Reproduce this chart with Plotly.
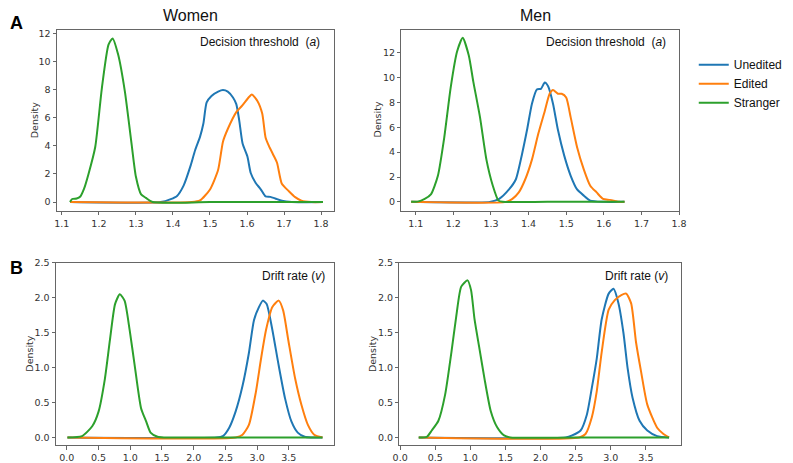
import plotly.graph_objects as go

W, H = 793, 463

# ---------------- DATA ----------------
series_names = ["Unedited", "Edited", "Stranger"]
colors = ["#1f77b4", "#ff7f0e", "#2ca02c"]

# Panel A - Women (decision threshold)
wa_unedited_x = [1.122, 1.367, 1.394, 1.411, 1.429, 1.447, 1.46, 1.473, 1.482, 1.491, 1.504, 1.522, 1.535, 1.548, 1.562, 1.571, 1.579, 1.588, 1.601, 1.61, 1.623, 1.637, 1.65, 1.663, 1.676, 1.694, 1.721, 1.805]
wa_unedited_y = [0, 0, 0.21, 0.44, 1.19, 2.54, 3.71, 4.64, 5.57, 7.09, 7.55, 7.86, 7.97, 7.86, 7.44, 6.97, 5.8, 4.17, 3.24, 2.07, 1.38, 0.91, 0.40, 0.37, 0.26, 0.09, 0, 0]
wa_edited_x = [1.122, 1.451, 1.473, 1.5, 1.522, 1.535, 1.548, 1.571, 1.588, 1.606, 1.613, 1.628, 1.641, 1.65, 1.659, 1.672, 1.681, 1.694, 1.712, 1.73, 1.747, 1.774, 1.805]
wa_edited_y = [0, 0, 0.12, 0.9, 2.3, 4.3, 5.2, 6.4, 6.9, 7.5, 7.65, 7.2, 6.3, 4.6, 4.0, 3.3, 2.8, 1.3, 0.8, 0.35, 0.1, 0, 0]
wa_stranger_x = [1.122, 1.128, 1.14, 1.15, 1.16, 1.172, 1.19, 1.208, 1.226, 1.237, 1.252, 1.27, 1.288, 1.30, 1.314, 1.327, 1.345, 1.5, 1.805]
wa_stranger_y = [0, 0.22, 0.25, 0.4, 0.95, 2.0, 3.9, 8.1, 11.2, 11.65, 10.5, 7.9, 4.2, 1.8, 0.55, 0.3, 0.0, 0, 0]

# Panel A - Men (decision threshold)
ma_unedited_x = [1.088, 1.297, 1.322, 1.348, 1.366, 1.383, 1.396, 1.409, 1.422, 1.433, 1.443, 1.452, 1.465, 1.478, 1.495, 1.512, 1.529, 1.547, 1.564, 1.598, 1.655]
ma_unedited_y = [0, 0, 0.24, 1.0, 1.8, 3.9, 5.8, 7.9, 9.05, 9.1, 9.6, 9.3, 7.9, 5.8, 3.7, 2.1, 1.0, 0.5, 0.1, 0, 0]
ma_edited_x = [1.088, 1.34, 1.357, 1.374, 1.391, 1.409, 1.426, 1.443, 1.456, 1.465, 1.478, 1.488, 1.5, 1.512, 1.529, 1.547, 1.564, 1.581, 1.598, 1.616, 1.633, 1.641, 1.655]
ma_edited_y = [0, 0, 0.24, 0.76, 1.8, 3.4, 5.5, 7.3, 8.7, 9.0, 8.7, 8.7, 8.4, 6.8, 4.4, 2.6, 1.3, 0.76, 0.24, 0.16, 0.05, 0, 0]
ma_stranger_x = [1.088, 1.105, 1.124, 1.141, 1.159, 1.176, 1.193, 1.21, 1.225, 1.241, 1.253, 1.271, 1.288, 1.305, 1.32, 1.331, 1.45, 1.655]
ma_stranger_y = [0, 0.02, 0.24, 0.63, 2.1, 5.2, 9.2, 12.1, 13.2, 11.8, 9.7, 6.8, 3.4, 1.3, 0.1, 0, 0, 0]

# Panel B - Women (drift rate)
wb_unedited_x = [0.01, 2.36, 2.46, 2.56, 2.66, 2.77, 2.87, 2.95, 3.03, 3.09, 3.15, 3.23, 3.34, 3.44, 3.54, 3.64, 3.75, 3.85, 4.03]
wb_unedited_y = [0, 0, 0.02, 0.14, 0.37, 0.74, 1.21, 1.68, 1.87, 1.96, 1.91, 1.59, 1.03, 0.56, 0.23, 0.07, 0.01, 0, 0]
wb_edited_x = [0.01, 2.66, 2.77, 2.87, 2.98, 3.06, 3.14, 3.24, 3.34, 3.41, 3.49, 3.6, 3.7, 3.8, 3.9, 4.03]
wb_edited_y = [0, 0, 0.04, 0.18, 0.65, 1.12, 1.54, 1.87, 1.96, 1.82, 1.4, 0.84, 0.46, 0.18, 0.04, 0]
wb_stranger_x = [0.01, 0.24, 0.4, 0.5, 0.6, 0.68, 0.76, 0.835, 0.91, 0.99, 1.07, 1.17, 1.25, 1.32, 1.43, 1.53, 2.5, 4.03]
wb_stranger_y = [0, 0.02, 0.16, 0.37, 0.84, 1.4, 1.91, 2.05, 1.96, 1.54, 1.03, 0.42, 0.23, 0.07, 0.01, 0, 0, 0]

# Panel B - Men (drift rate)
mb_unedited_x = [0.265, 2.36, 2.45, 2.57, 2.66, 2.73, 2.8, 2.87, 2.97, 3.04, 3.11, 3.18, 3.24, 3.31, 3.41, 3.52, 3.66, 3.83]
mb_unedited_y = [0, 0, 0.03, 0.1, 0.33, 0.71, 1.13, 1.69, 2.06, 2.13, 1.92, 1.5, 0.99, 0.57, 0.24, 0.1, 0.02, 0]
mb_edited_x = [0.265, 2.55, 2.64, 2.73, 2.8, 2.87, 2.97, 3.06, 3.15, 3.22, 3.29, 3.36, 3.43, 3.52, 3.66, 3.75, 3.83]
mb_edited_y = [0, 0, 0.05, 0.29, 0.66, 1.22, 1.83, 1.97, 2.04, 2.06, 1.92, 1.36, 0.95, 0.47, 0.14, 0.05, 0]
mb_stranger_x = [0.265, 0.38, 0.45, 0.545, 0.64, 0.73, 0.8, 0.87, 0.96, 1.01, 1.06, 1.13, 1.2, 1.29, 1.38, 1.48, 1.57, 2.5, 3.83]
mb_stranger_y = [0, 0.01, 0.1, 0.24, 0.61, 1.22, 1.74, 2.16, 2.25, 2.11, 1.69, 1.27, 0.85, 0.38, 0.15, 0.03, 0, 0, 0]

panels = [
    [(wa_unedited_x, wa_unedited_y), (wa_edited_x, wa_edited_y), (wa_stranger_x, wa_stranger_y)],
    [(ma_unedited_x, ma_unedited_y), (ma_edited_x, ma_edited_y), (ma_stranger_x, ma_stranger_y)],
    [(wb_unedited_x, wb_unedited_y), (wb_edited_x, wb_edited_y), (wb_stranger_x, wb_stranger_y)],
    [(mb_unedited_x, mb_unedited_y), (mb_edited_x, mb_edited_y), (mb_stranger_x, mb_stranger_y)],
]

xticks_a = [1.1, 1.2, 1.3, 1.4, 1.5, 1.6, 1.7, 1.8]
yticks_a = [0, 2, 4, 6, 8, 10, 12]
xticks_b = [0.0, 0.5, 1.0, 1.5, 2.0, 2.5, 3.0, 3.5]
yticks_b = [0.0, 0.5, 1.0, 1.5, 2.0, 2.5]

# ---------------- LAYOUT ----------------
# pixel boxes: (left, right, top, bottom)
boxes = [(51, 333, 24, 209), (402, 685, 24, 209), (50, 333, 262, 448), (400, 687, 262, 448)]
xranges = [[1.087, 1.834], [1.062, 1.80], [-0.17, 4.207], [-0.01, 4.0]]
yranges = [[-0.63, 12.28], [-0.73, 13.87], [-0.112, 2.5], [-0.112, 2.5]]
xtick_sets = [xticks_a, xticks_a, xticks_b, xticks_b]
ytick_sets = [yticks_a, yticks_a, yticks_b, yticks_b]

fig = go.Figure()
layout = dict(
    width=W, height=H, margin=dict(l=0, r=0, t=0, b=0),
    paper_bgcolor="white", plot_bgcolor="white",
    font=dict(family="DejaVu Sans", size=10, color="#333333"),
)

for i, series in enumerate(panels):
    ax = "" if i == 0 else str(i + 1)
    for j, (xs, ys) in enumerate(series):
        fig.add_trace(go.Scatter(
            x=xs, y=ys, mode="lines", name=series_names[j],
            line=dict(color=colors[j], width=2, shape="spline", smoothing=0.6),
            xaxis="x" + ax, yaxis="y" + ax,
            showlegend=(i == 0), hoverinfo="skip",
        ))
    l, r, t, b = boxes[i]
    common = dict(showline=True, mirror=True, linecolor="#666666", linewidth=1,
                  ticks="outside", ticklen=3.5, tickwidth=1, tickcolor="#666666",
                  showgrid=False, zeroline=False,
                  tickfont=dict(family="DejaVu Sans", size=9.5, color="#333333"))
    fmt = None if i < 2 else ".1f"
    layout["xaxis" + ax] = dict(common, domain=[l / W, r / W], range=xranges[i],
                                anchor="y" + ax, tickvals=xtick_sets[i],
                                tickformat=".1f")
    layout["yaxis" + ax] = dict(common, domain=[1 - b / H, 1 - t / H], range=yranges[i],
                                anchor="x" + ax, tickvals=ytick_sets[i],
                                tickformat=fmt if fmt else "d")

annotations = []
def ann(text, x, y, size, xanchor="center", family="Liberation Sans", color="#111111", angle=0):
    annotations.append(dict(text=text, x=x / W, y=1 - y / H, xref="paper", yref="paper",
                            xanchor=xanchor, yanchor="middle", showarrow=False,
                            textangle=angle,
                            font=dict(family=family, size=size, color=color)))

ann("Women", 187, 10, 16)
ann("Men", 539, 10, 16)
ann("<b>A</b>", 10, 17, 18, family="Liberation Sans", color="#000000")
ann("<b>B</b>", 10, 267, 18, family="Liberation Sans", color="#000000")
ann("Decision threshold&nbsp;&nbsp;(<i>a</i>)", 321, 37, 12, xanchor="right")
ann("Decision threshold&nbsp;&nbsp;(<i>a</i>)", 674, 37, 12, xanchor="right")
ann("Drift rate (<i>v</i>)", 326, 275, 12, xanchor="right")
ann("Drift rate (<i>v</i>)", 676, 275, 12, xanchor="right")
ann("Density", 28, 116, 9.5, family="DejaVu Sans", color="#333333", angle=-90)
ann("Density", 378, 116, 9.5, family="DejaVu Sans", color="#333333", angle=-90)
ann("Density", 23, 355, 9.5, family="DejaVu Sans", color="#333333", angle=-90)
ann("Density", 372, 355, 9.5, family="DejaVu Sans", color="#333333", angle=-90)
layout["annotations"] = annotations

layout["legend"] = dict(x=700 / W, y=1 - 45 / H, xanchor="left", yanchor="top",
                        font=dict(family="Liberation Sans", size=12, color="#111111"),
                        bgcolor="rgba(0,0,0,0)", tracegroupgap=0, itemwidth=30)

fig.update_layout(**layout)
fig.write_html("out.html")
